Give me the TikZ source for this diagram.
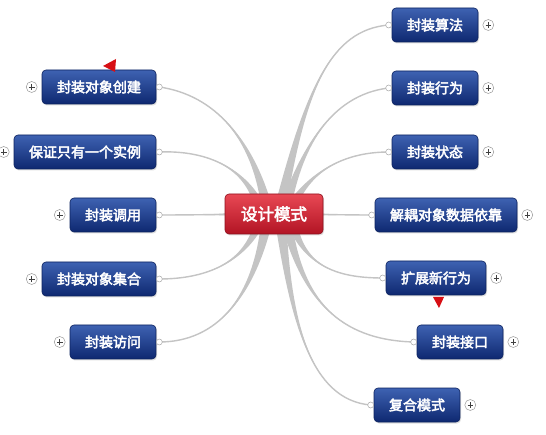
\documentclass[tikz,border=0pt]{standalone}
\usepackage{fontspec}
\newfontfamily\cjk{Noto Sans CJK SC}[FakeBold=3]
\usetikzlibrary{calc,shadows}
\definecolor{brc}{RGB}{196,196,196}
\definecolor{btop}{RGB}{62,98,178}
\definecolor{bbot}{RGB}{14,40,112}
\definecolor{rtop}{RGB}{232,72,84}
\definecolor{rbot}{RGB}{178,20,36}
\definecolor{mk}{RGB}{215,15,20}
\newcommand\mybranch[4]{%
  \fill[brc] ($(#1)!6pt!90:(#2)$) .. controls (#2) and (#3) .. (#4) .. controls (#3) and (#2) .. ($(#1)!6pt!-90:(#2)$) -- cycle;
  \draw[brc,line width=1.4pt] (#1) .. controls (#2) and (#3) .. (#4);}
\begin{document}
\begin{tikzpicture}[x=1pt,y=-1pt,
  topic/.style={rounded corners=4pt, top color=btop, bottom color=bbot, draw=bbot!85!black, line width=0.6pt,
    text=white, font=\cjk\fontsize{14}{16}\selectfont, minimum height=34pt, inner xsep=15pt, inner ysep=0pt,
    drop shadow={opacity=0.25, shadow xshift=1pt, shadow yshift=-1.5pt}},
  central/.style={topic, top color=rtop, bottom color=rbot, draw=rbot!80!black, minimum height=40pt,
    inner xsep=16pt, font=\cjk\fontsize{16.5}{18}\selectfont},
  port/.style={circle, draw=gray!70, fill=white, line width=0.5pt, minimum size=6pt, inner sep=0pt},
  plus/.style={circle, draw=gray!80, fill=white, line width=0.5pt, minimum size=11pt, inner sep=0pt,
    path picture={\draw[line width=0.8pt,black!75] ($(path picture bounding box.center)+(-2.8pt,0pt)$) -- ($(path picture bounding box.center)+(2.8pt,0pt)$)
      ($(path picture bounding box.center)+(0pt,-2.8pt)$) -- ($(path picture bounding box.center)+(0pt,2.8pt)$);}},
  marker/.style={fill=mk}]
\useasboundingbox (0,0) rectangle (546,435);
\fill[white] (0,0) rectangle (546,435);

% topic nodes
\node[topic] (r1) at (435,25) {封装算法};
\node[topic] (r2) at (435,88) {封装行为};
\node[topic] (r3) at (435,152) {封装状态};
\node[topic] (r4) at (446,215) {解耦对象数据依靠};
\node[topic] (r5) at (436,278) {扩展新行为};
\node[topic] (r6) at (460,342) {封装接口};
\node[topic] (r7) at (417,405) {复合模式};
\node[topic] (l1) at (99,87) {封装对象创建};
\node[topic] (l2) at (85,152) {保证只有一个实例};
\node[topic] (l3) at (113,215) {封装调用};
\node[topic] (l4) at (99,279) {封装对象集合};
\node[topic] (l5) at (113,342) {封装访问};

\foreach \n in {r1,r2,r3,r4,r5,r6,r7}{\coordinate (e\n) at ($(\n.west)+(-3pt,0pt)$);}
\foreach \n in {l1,l2,l3,l4,l5}{\coordinate (e\n) at ($(\n.east)+(3pt,0pt)$);}

% branch roots (hidden under the central topic)
\coordinate (s1) at (279,214);
\coordinate (s2) at (284,214);
\coordinate (s3) at (288,214);
\coordinate (s4) at (274,214);
\coordinate (s5) at (290,214);
\coordinate (s6) at (285,214);
\coordinate (s7) at (280,214);
\coordinate (t1) at (268,214);
\coordinate (t2) at (262,214);
\coordinate (t3) at (274,214);
\coordinate (t4) at (262,214);
\coordinate (t5) at (268,214);

% branches
\mybranch{s1}{305,90}{330,30}{er1}
\mybranch{s2}{300,150}{330,95}{er2}
\mybranch{s3}{305,175}{340,152}{er3}
\mybranch{s4}{310,214}{340,215}{er4}
\mybranch{s5}{300,265}{335,278}{er5}
\mybranch{s6}{300,300}{340,340}{er6}
\mybranch{s7}{290,320}{310,400}{er7}
\mybranch{t1}{255,140}{215,95}{el1}
\mybranch{t2}{250,170}{210,150}{el2}
\mybranch{t3}{240,214}{200,215}{el3}
\mybranch{t4}{250,260}{210,279}{el4}
\mybranch{t5}{255,300}{215,342}{el5}

% central topic on top of branches
\node[central] (c) at (274,214) {设计模式};

\foreach \n in {r1,r2,r3,r4,r5,r6,r7,l1,l2,l3,l4,l5}{\node[port] (q\n) at (e\n) {};}
\foreach \n in {r1,r2,r3,r4,r5,r6,r7}{\node[plus] (p\n) at ($(\n.east)+(10pt,0pt)$) {};}
\foreach \n in {l1,l2,l3,l4,l5}{\node[plus] (p\n) at ($(\n.west)+(-10pt,0pt)$) {};}

% markers
\fill[marker] (103,66) -- (116,59) -- (115,72) -- cycle;
\fill[marker] (433,297) -- (444,297) -- (439,308) -- cycle;
\end{tikzpicture}
\end{document}
